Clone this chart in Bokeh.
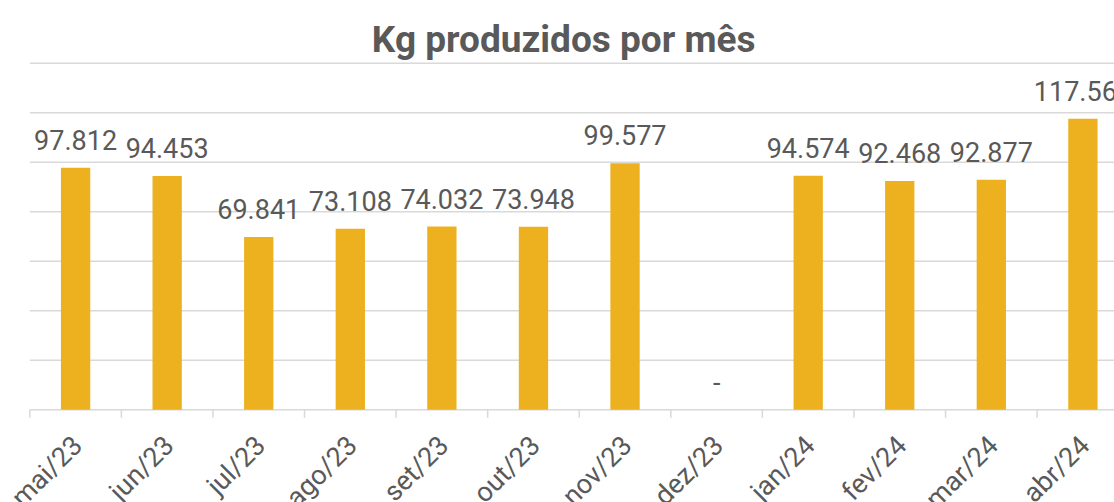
import math
from bokeh.plotting import figure
from bokeh.models import ColumnDataSource, Range1d, LabelSet, Label
from bokeh.core.properties import value
from bokeh.embed import file_html
from bokeh.resources import INLINE

title_text = "Kg produzidos por mês"
categories = ["mai/23", "jun/23", "jul/23", "ago/23", "set/23", "out/23",
              "nov/23", "dez/23", "jan/24", "fev/24", "mar/24", "abr/24"]
values = [97812, 94453, 69841, 73108, 74032, 73948,
          99577, 0, 94574, 92468, 92877, 117569]
grid_ticks = [0, 20000, 40000, 60000, 80000, 100000, 120000, 140000]


def fmt(v):
    return "-" if v == 0 else f"{v:,}".replace(",", ".")


xs = list(range(len(categories)))
source = ColumnDataSource(dict(
    x=xs,
    zero=[0] * len(xs),
    top=values,
    label=[fmt(v) for v in values],
    cat=categories,
))

FONT = "Roboto"
GRAY = "#595959"
LIGHT = "#d9d9d9"

X_START, X_END = -0.82, 11.345
PX_PER_Y = 0.0024757

# ranges extend left of the first category and below 0 so every text stays inside the frame
p = figure(width=1114, height=502, output_backend="svg", toolbar_location=None,
           x_range=Range1d(X_START, X_END), y_range=Range1d(-37440, 165330),
           min_border_left=0, min_border_right=0, min_border_top=0,
           min_border_bottom=0, outline_line_color=None, title=None)

p.xaxis.visible = False
p.yaxis.visible = False
p.xgrid.visible = False
p.ygrid.visible = False

# horizontal gridlines (and baseline) starting at the left edge of the first category
left_edge = xs[0] - 0.5
p.segment(x0=[left_edge] * len(grid_ticks), x1=[X_END + 1] * len(grid_ticks),
          y0=grid_ticks, y1=grid_ticks, line_color=LIGHT, line_width=1.5)

# tick marks at category boundaries on the baseline
bounds = [i - 0.5 for i in range(len(categories) + 1)]
tick_len = 8 / PX_PER_Y  # 8 px in data units
p.segment(x0=bounds, x1=bounds, y0=[0] * len(bounds), y1=[-tick_len] * len(bounds),
          line_color=LIGHT, line_width=1.5)

p.vbar(x="x", top="top", width=0.32, source=source,
       fill_color="#EDB120", line_color=None)

p.add_layout(LabelSet(x="x", y="top", text="label", source=source,
                      text_align="center", text_baseline="alphabetic",
                      y_offset=18, text_font=value(FONT), text_font_size="27px",
                      text_color=GRAY))

# category labels under the baseline, rotated 45 degrees
p.add_layout(LabelSet(x="x", y="zero", text="cat", source=source,
                      angle=math.pi / 4, text_align="right", text_baseline="middle",
                      x_offset=2, y_offset=-31, text_font=value(FONT),
                      text_font_size="27px", text_color=GRAY))

# title
p.add_layout(Label(x=5.33, y=149450, text=title_text, text_align="center",
                   text_baseline="alphabetic", text_font=FONT,
                   text_font_size="37px", text_font_style="bold", text_color=GRAY))

open("out.html", "w").write(file_html(p, INLINE))
